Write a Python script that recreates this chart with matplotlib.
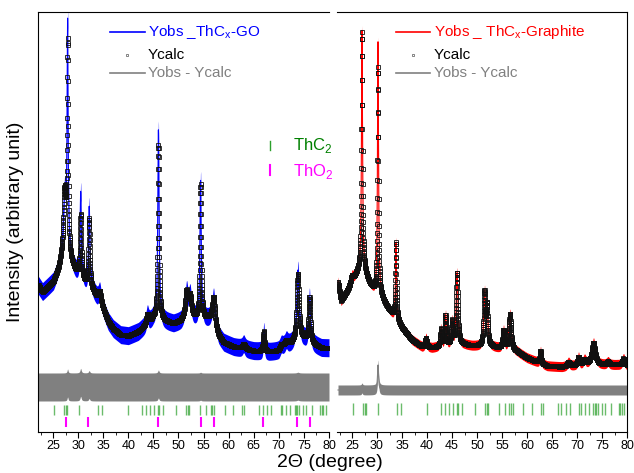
import matplotlib
matplotlib.use("Agg")
import matplotlib.pyplot as plt
import numpy as np

plt.rcParams['font.family'] = ['Liberation Sans', 'DejaVu Sans']

# --- ThCx-GO pattern (left): background knots and peaks (intensity in arb. units)
go_bg_x = [22, 22.9, 25.1, 26.1, 26.8, 27.6, 28.5, 29.5, 31.2, 33, 35, 36, 37, 38.5, 40, 42, 43, 44,
           45, 47.5, 49, 50.5, 52, 53, 55.5, 56.5, 58, 59, 61, 63, 65, 68, 70, 71, 72.5, 74, 75, 77,
           78.5, 80]
go_bg_y = [147, 140, 150, 162, 175, 185, 170, 160, 150, 140, 122, 110, 103, 97, 96, 100, 104, 108,
           113, 110, 108, 110, 115, 113, 112, 112, 95, 89, 85, 83, 81, 80, 81, 85, 88, 92, 92, 87,
           84, 84]
go_pk_pos = [27.3, 27.9, 30.5, 32.2, 34.3, 43.8, 46.0, 51.6, 52.3, 54.4, 57.0, 63.0, 67.0, 70.5,
             71.5, 73.8, 76.1]
go_pk_calc = [57, 205, 62, 68, 12, 10, 175, 25, 20, 134, 28, 5, 20, 4, 5, 66, 45]
go_pk_obs = [57, 225, 85, 80, 12, 10, 190, 25, 20, 138, 28, 5, 20, 4, 5, 70, 45]
go_pk_w = [0.25, 0.12, 0.15, 0.15, 0.3, 0.25, 0.15, 0.3, 0.3, 0.15, 0.3, 0.3, 0.15, 0.3, 0.3,
           0.25, 0.2]
go_noise = 9
go_diff_level = 45
go_diff_scale = 0.2
go_diff_noise = 14

# --- ThCx-Graphite pattern (right)
gr_bg_x = [22.2, 22.8, 24, 25, 26, 27, 28.5, 29.5, 31, 32, 33, 35, 37, 39, 41, 44, 47.5, 49, 53,
           54, 58, 60, 62, 64, 67, 69, 72, 75, 78, 80]
gr_bg_y = [150, 131, 140, 148, 158, 165, 148, 140, 133, 125, 118, 104, 92, 85, 84, 86, 87, 86, 85,
           84, 80, 74, 70, 66, 65, 66, 67, 67, 67, 66]
gr_pk_pos = [25.0, 27.0, 30.2, 33.8, 39.8, 42.8, 43.7, 45.0, 46.0, 51.5, 52.0, 55.3, 56.6, 62.7,
             68.3, 70.3, 71.5, 73.3, 76.2, 79.3]
gr_pk_calc = [8, 234, 228, 77, 9, 17, 30, 23, 72, 52, 38, 18, 36, 12, 4, 8, 5, 22, 3, 7]
gr_pk_obs = [8, 236, 253, 77, 9, 17, 30, 23, 72, 52, 38, 18, 36, 12, 4, 8, 5, 22, 3, 7]
gr_pk_w = [0.3, 0.12, 0.12, 0.12, 0.2, 0.15, 0.15, 0.15, 0.2, 0.18, 0.18, 0.2, 0.25, 0.15, 0.3,
           0.2, 0.3, 0.4, 0.3, 0.3]
gr_noise = 5
gr_diff_level = 42
gr_diff_scale = 1.0
gr_diff_noise = 5

# --- Bragg reflection positions
thc2_pos = [25.1, 27.1, 27.5, 27.7, 30.2, 33.9, 34.7, 39.9, 42.7, 43.5, 44.3, 45.1, 45.9, 46.2,
            46.9, 49.5, 51.5, 51.9, 52.1, 54.3, 55.5, 56.4, 56.7, 57.1, 59.2, 60.9, 62.7, 63.1,
            66.1, 66.8, 67.7, 68.5, 70.4, 70.7, 71.5, 72.3, 73.2, 73.5, 73.7, 74.1, 74.9, 75.5,
            76.7, 78.3, 78.6, 78.9, 79.4]
tho2_pos = [27.6, 32.0, 45.9, 54.4, 57.0, 66.9, 73.7, 76.2]


def profile(x, bg_x, bg_y, pos, heights, widths):
    y = np.interp(x, bg_x, bg_y)
    for p, h, w in zip(pos, heights, widths):
        y = y + h / (1 + ((x - p) / w) ** 2)
    return y


def draw_panel(ax, x, bg_x, bg_y, pos, calc_h, obs_h, widths, color, noise, dlevel, dscale, dnoise):
    calc = profile(x, bg_x, bg_y, pos, calc_h, widths)
    obs = profile(x, bg_x, bg_y, pos, obs_h, widths)
    diff = dlevel + dscale * (obs - calc)
    ax.fill_between(x, obs - noise, obs + noise, color=color, lw=0, zorder=1)
    ax.plot(x, obs, color=color, lw=0.8, zorder=1)
    ax.plot(x, calc, ls='none', marker='s', ms=2.6, mfc='none', mec='#111111', mew=0.6, zorder=2)
    ax.fill_between(x, diff - dnoise, diff + dnoise, color='#808080', lw=0, zorder=1)
    ax.plot(x, diff, color='#808080', lw=0.8, zorder=1)


fig = plt.figure(figsize=(6.34, 4.73), dpi=100)
ax1 = fig.add_axes([38 / 634, 41 / 473, 291 / 634, 420 / 473])
ax2 = fig.add_axes([337 / 634, 41 / 473, 290 / 634, 420 / 473])

x1 = np.arange(22, 80.001, 0.02)
x2 = np.arange(22.2, 80.001, 0.02)
draw_panel(ax1, x1, go_bg_x, go_bg_y, go_pk_pos, go_pk_calc, go_pk_obs, go_pk_w, '#0000ff',
           go_noise, go_diff_level, go_diff_scale, go_diff_noise)
draw_panel(ax2, x2, gr_bg_x, gr_bg_y, gr_pk_pos, gr_pk_calc, gr_pk_obs, gr_pk_w, '#ff0000',
           gr_noise, gr_diff_level, gr_diff_scale, gr_diff_noise)

ax1.vlines(thc2_pos, 17, 27, color='#2ca02c', lw=1, alpha=0.7)
ax1.vlines(tho2_pos, 5, 15, color='#ff00ff', lw=1.5)
ax2.vlines(thc2_pos, 17, 29, color='#2ca02c', lw=1, alpha=0.7)

for ax in (ax1, ax2):
    ax.set_xlim(22, 80)
    ax.set_ylim(0, 420)
    ax.set_yticks([])
    ax.set_xticks(np.arange(25, 81, 5))
    ax.set_xticks(np.arange(22.5, 80.1, 2.5), minor=True)
    ax.tick_params(axis='x', which='major', direction='out', length=4, labelsize=9, pad=2)
    ax.tick_params(axis='x', which='minor', direction='out', length=2)
ax1.spines['right'].set_visible(False)
ax2.spines['left'].set_visible(False)

# legends drawn by hand
def legend(ax, x0, x1_, xt, label, color):
    ax.plot([x0, x1_], [0.952, 0.952], color=color, lw=1.2, transform=ax.transAxes)
    ax.text(xt, 0.952, label, color=color, fontsize=11, va='center', transform=ax.transAxes)
    ax.plot([(x0 + x1_) / 2], [0.898], ls='none', marker='s', ms=1.5, mfc='none', mec='#555555',
            mew=0.5, transform=ax.transAxes)
    ax.text(xt, 0.898, 'Ycalc', color='black', fontsize=11, va='center', transform=ax.transAxes)
    ax.plot([x0, x1_], [0.855, 0.855], color='#808080', lw=1.2, transform=ax.transAxes)
    ax.text(xt, 0.855, 'Yobs - Ycalc', color='#808080', fontsize=11, va='center',
            transform=ax.transAxes)


legend(ax1, 0.247, 0.368, 0.378, r'Yobs _ThC$_\mathregular{x}$-GO', '#0000ff')
legend(ax2, 0.203, 0.321, 0.334, r'Yobs _ ThC$_\mathregular{x}$-Graphite', '#ff0000')

ax1.plot([0.797, 0.797], [0.672, 0.694], color='#2ca02c', lw=1, transform=ax1.transAxes)
ax1.text(0.878, 0.683, r'ThC$_\mathregular{2}$', color='#008000', fontsize=12, va='center',
         transform=ax1.transAxes)
ax1.plot([0.797, 0.797], [0.612, 0.636], color='#ff00ff', lw=1.5, transform=ax1.transAxes)
ax1.text(0.878, 0.621, r'ThO$_\mathregular{2}$', color='#ff00ff', fontsize=12, va='center',
         transform=ax1.transAxes)

fig.text(0.024, 0.53, 'Intensity (arbitrary unit)', rotation=90, fontsize=14, ha='center',
         va='center')
fig.text(0.52, 0.022, '2\u0398 (degree)', fontsize=14, ha='center', va='center')

fig.savefig('out.png', dpi=100)
